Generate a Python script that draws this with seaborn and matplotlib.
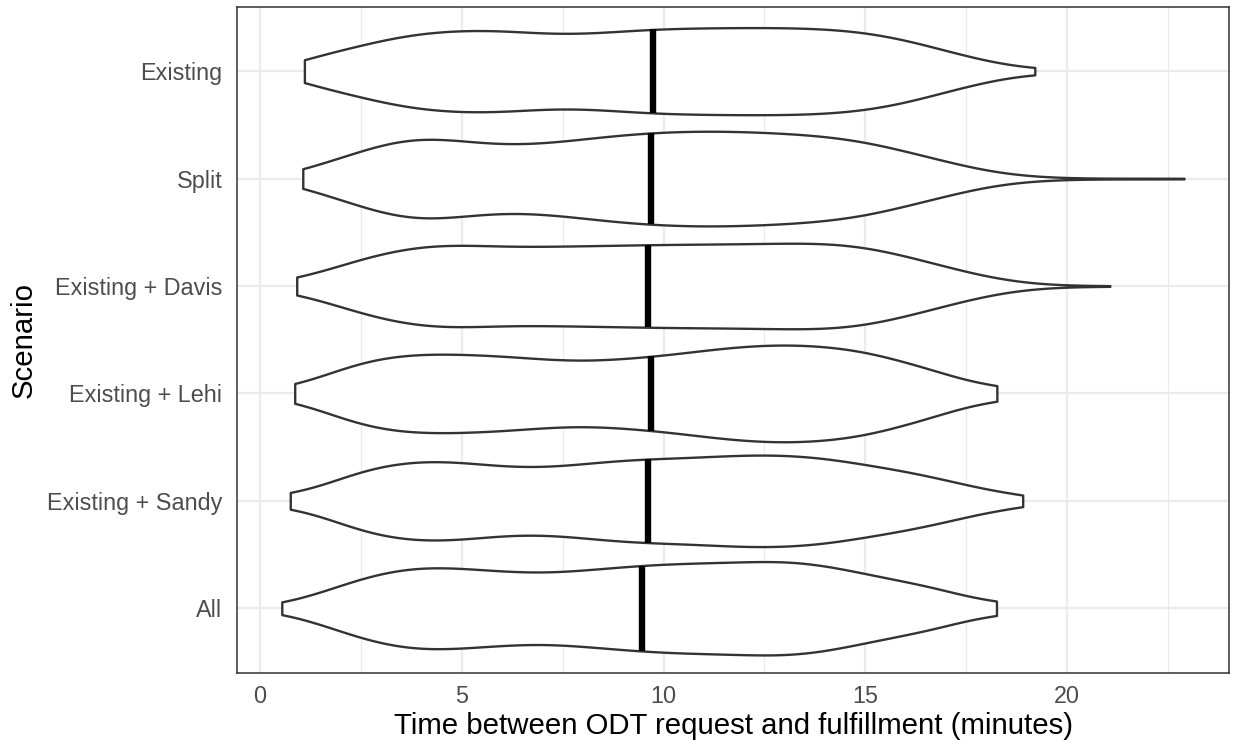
import numpy as np
import pandas as pd
import matplotlib
matplotlib.use("Agg")
import matplotlib.pyplot as plt
import seaborn as sns
from matplotlib.ticker import MultipleLocator

# ---------------- data ----------------
scenarios = ["Existing", "Split", "Existing + Davis", "Existing + Lehi",
             "Existing + Sandy", "All"]

# minutes values and number of trips observed at those values
existing_min = [1.1, 2, 3, 4, 5, 6, 7, 8, 9, 10, 11, 12, 13, 14, 15, 16, 17, 18, 19.2]
existing_cnt = [30, 60, 92, 113, 121, 120, 110, 109, 118, 125, 127, 128, 128, 125, 115, 93, 60, 30, 11]

split_min = [1.06, 2, 3, 4, 5, 6, 7, 8, 9, 10, 11, 12, 13, 14, 15, 16, 17, 18, 19, 20, 21, 22, 22.9]
split_cnt = [23, 60, 102, 122, 110, 98, 102, 115, 128, 136, 139, 137, 132, 124, 108, 80, 50, 22, 7, 2, 1, 1, 1]

davis_min = [0.91, 2, 3, 4, 5, 6, 7, 8, 9, 10, 11, 12, 13, 14, 15, 16, 17, 18, 19, 20, 21.06]
davis_cnt = [26, 62, 97, 119, 122, 116, 116, 118, 120, 122, 123, 124, 126, 127, 116, 89, 57, 27, 8, 2, 1]

lehi_min = [0.86, 2, 3, 4, 5, 6, 7, 8, 9, 10, 11, 12, 13, 14, 15, 16, 17, 18.26]
lehi_cnt = [28, 75, 106, 116, 114, 109, 99, 93, 100, 110, 125, 138, 143, 138, 123, 91, 58, 27]

sandy_min = [0.75, 2, 3, 4, 5, 6, 7, 8, 9, 10, 11, 12, 13, 14, 15, 16, 17, 18, 18.9]
sandy_cnt = [27, 70, 105, 119, 114, 100, 97, 108, 120, 124, 128, 135, 135, 126, 106, 87, 62, 31, 14]

all_min = [0.54, 1, 2, 3, 4, 5, 6, 7, 8, 9, 10, 11, 12, 13, 14, 15, 16, 17, 18.25]
all_cnt = [6, 22, 69, 106, 123, 118, 108, 103, 111, 122, 130, 133, 136, 140, 127, 101, 78, 55, 25]

# median time of each scenario (thick black line)
median_minutes = [9.74, 9.69, 9.61, 9.69, 9.61, 9.47]

x_ticks = [0, 5, 10, 15, 20]
x_label = "Time between ODT request and fulfillment (minutes)"
y_label = "Scenario"

# ---------------- build long table ----------------
series = {
    "Existing": (existing_min, existing_cnt),
    "Split": (split_min, split_cnt),
    "Existing + Davis": (davis_min, davis_cnt),
    "Existing + Lehi": (lehi_min, lehi_cnt),
    "Existing + Sandy": (sandy_min, sandy_cnt),
    "All": (all_min, all_cnt),
}
frames = []
for name in scenarios:
    mins, cnts = series[name]
    vals = np.repeat(np.asarray(mins, float), np.asarray(cnts, int))
    frames.append(pd.DataFrame({"scenario": name, "minutes": vals}))
df = pd.concat(frames, ignore_index=True)

# ---------------- style ----------------
sns.set_style("white")
plt.rcParams["font.family"] = ["Liberation Sans", "DejaVu Sans"]

fig = plt.figure(figsize=(12.35, 7.44), dpi=100)
ax = fig.add_axes([237 / 1235, 71.3 / 744, 992.3 / 1235, 666 / 744])

sns.violinplot(data=df, x="minutes", y="scenario", order=scenarios, orient="y",
               cut=0, bw_method=0.17, density_norm="area", width=0.9,
               inner=None, fill=True, color="white", saturation=1,
               linecolor="#333333", linewidth=1.7, gridsize=400, ax=ax)

# median line drawn across the width of each violin
violins = list(ax.collections)
for i, (coll, med) in enumerate(zip(violins, median_minutes)):
    v = coll.get_paths()[0].vertices
    top = v[v[:, 1] <= i]
    bot = v[v[:, 1] > i]
    top = top[np.argsort(top[:, 0], kind="stable")]
    bot = bot[np.argsort(bot[:, 0], kind="stable")]
    y0 = np.interp(med, top[:, 0], top[:, 1])
    y1 = np.interp(med, bot[:, 0], bot[:, 1])
    ax.plot([med, med], [y0, y1], color="black", lw=4.6, solid_capstyle="butt", zorder=5)

ax.set_xlim(-0.57, 24.02)
ax.set_ylim(5.6, -0.6)
ax.set_xticks(x_ticks)
ax.xaxis.set_minor_locator(MultipleLocator(2.5))
ax.set_axisbelow(True)
ax.grid(True, which="major", color="#EBEBEB", lw=1.6)
ax.grid(True, which="minor", axis="x", color="#EBEBEB", lw=0.9)
ax.yaxis.grid(True, which="major", color="#EBEBEB", lw=1.6)

for s in ax.spines.values():
    s.set_visible(True)
    s.set_color("#333333")
    s.set_linewidth(1.1)

ax.tick_params(axis="both", which="major", length=5, width=1.1, color="#333333",
               labelcolor="#4D4D4D", labelsize=16.8, pad=3.5)
ax.tick_params(axis="y", which="major", pad=5.5)
ax.tick_params(axis="both", which="minor", length=0)
ax.set_xlabel(x_label, fontsize=21.2, color="black", labelpad=3)
ax.set_ylabel(y_label, fontsize=21.2, color="black", labelpad=6.5)

fig.savefig("out.png", dpi=100, facecolor="white")
